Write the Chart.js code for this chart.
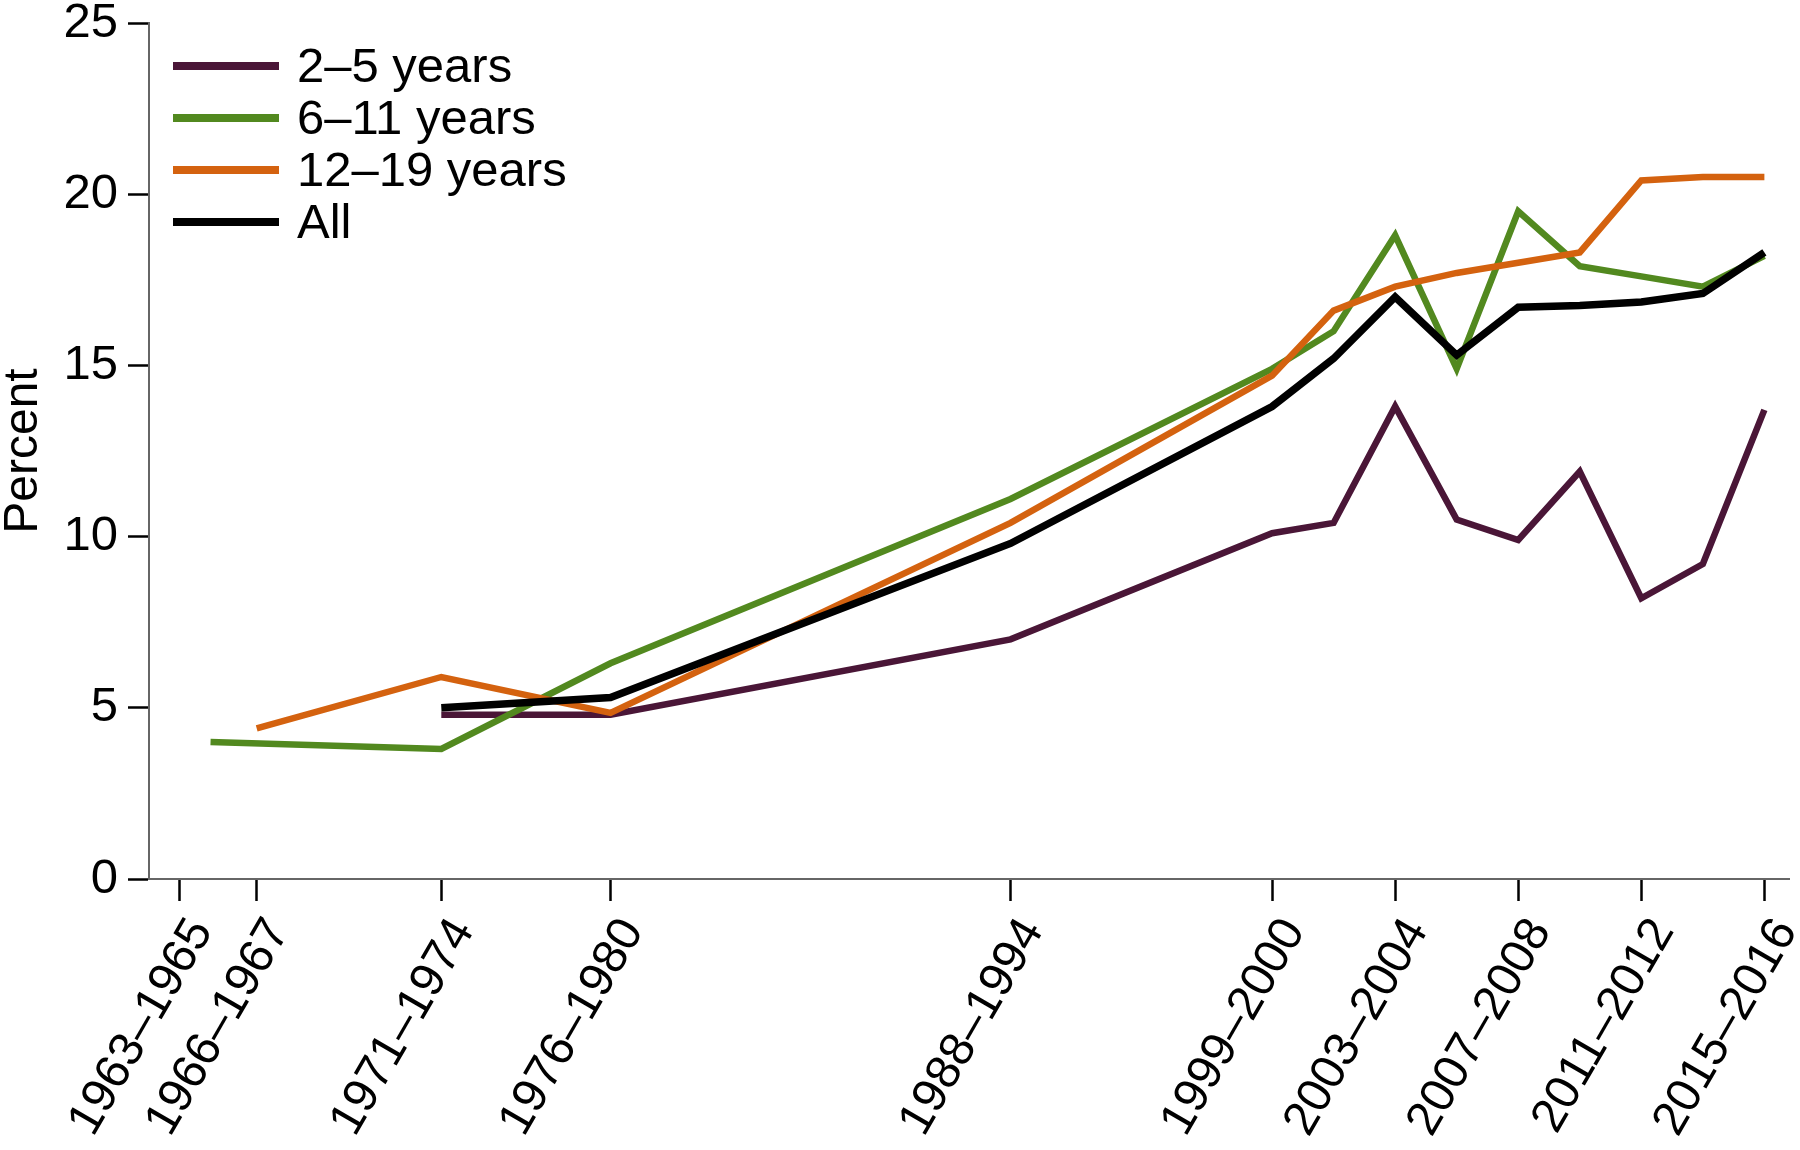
<!DOCTYPE html>
<html>
<head>
<meta charset="utf-8">
<title>Percent by age group</title>
<script src="https://cdn.jsdelivr.net/npm/chart.js@4.4.0/dist/chart.umd.min.js"></script>
<style>
    body { margin: 0; background: #fff; }
    canvas { display: block; }
</style>
</head>
<body>
<canvas id="ageChart" width="1800" height="1150"></canvas>
<script>
// x axis: survey periods, placed at the middle of each period
const tickYears = [1964, 1966.5, 1972.5, 1978, 1991, 1999.5, 2003.5, 2007.5, 2011.5, 2015.5];
const tickLabels = ['1963–1965', '1966–1967', '1971–1974', '1976–1980', '1988–1994',
    '1999–2000', '2003–2004', '2007–2008', '2011–2012', '2015–2016'];

// y axis ticks
const percentTicks = [0, 5, 10, 15, 20, 25];

// years for the series that start in 1971-1974
const surveyYears = [1972.5, 1978, 1991, 1999.5, 2001.5, 2003.5, 2005.5, 2007.5, 2009.5, 2011.5, 2013.5, 2015.5];
// 6-11 years starts earlier
const years6to11 = [1965, 1972.5, 1978, 1991, 1999.5, 2001.5, 2003.5, 2005.5, 2007.5, 2009.5, 2011.5, 2013.5, 2015.5];
// 12-19 years starts in 1966-1967
const years12to19 = [1966.5, 1972.5, 1978, 1991, 1999.5, 2001.5, 2003.5, 2005.5, 2007.5, 2009.5, 2011.5, 2013.5, 2015.5];

const values2to5 = [4.8, 4.8, 7.0, 10.1, 10.4, 13.8, 10.5, 9.9, 11.9, 8.2, 9.2, 13.7];
const values6to11 = [4.0, 3.8, 6.3, 11.1, 14.9, 16.0, 18.8, 14.9, 19.5, 17.9, 17.6, 17.3, 18.2];
const values12to19 = [4.4, 5.9, 4.85, 10.4, 14.7, 16.6, 17.3, 17.7, 18.0, 18.3, 20.4, 20.5, 20.5];
const valuesAll = [5.0, 5.3, 9.8, 13.8, 15.2, 17.0, 15.3, 16.7, 16.75, 16.85, 17.1, 18.3];

const seriesLabels = ['2–5 years', '6–11 years', '12–19 years', 'All'];

const COLORS = {
    purple: '#4a1637',
    green: '#52891f',
    orange: '#d4620f',
    black: '#000000',
};

const FONT = 'Liberation Sans, Arial, Helvetica, sans-serif';

// turn two arrays into {x, y} points
function toPoints(xs, ys) {
    return xs.map((x, i) => ({x: x, y: ys[i]}));
}

// legend drawn inside the plot, top left
const insideLegend = {
    id: 'insideLegend',
    afterDraw(chart) {
        const ctx = chart.ctx;
        const lineX = chart.chartArea.left + 24;
        const lineLen = 106;
        const firstY = 66;
        const rowGap = 52;
        ctx.save();
        ctx.font = '49px ' + FONT;
        ctx.textBaseline = 'middle';
        ctx.textAlign = 'left';
        chart.data.datasets.forEach((ds, i) => {
            const y = firstY + i * rowGap;
            ctx.strokeStyle = ds.borderColor;
            ctx.lineWidth = 8;
            ctx.beginPath();
            ctx.moveTo(lineX, y);
            ctx.lineTo(lineX + lineLen, y);
            ctx.stroke();
            ctx.fillStyle = '#000';
            ctx.fillText(ds.label, lineX + lineLen + 18, y + 2);
        });
        ctx.restore();
    }
};

function makeDataset(label, xs, ys, color, width, order) {
    return {
        label: label,
        data: toPoints(xs, ys),
        borderColor: color,
        backgroundColor: color,
        borderWidth: width,
        pointRadius: 0,
        tension: 0,
        borderJoinStyle: 'miter',
        fill: false,
        order: order,
    };
}

const chart = new Chart(document.getElementById('ageChart'), {
    type: 'line',
    data: {
        datasets: [
            makeDataset(seriesLabels[0], surveyYears, values2to5, COLORS.purple, 6.5, 3),
            makeDataset(seriesLabels[1], years6to11, values6to11, COLORS.green, 6.5, 2),
            makeDataset(seriesLabels[2], years12to19, values12to19, COLORS.orange, 6.5, 1),
            makeDataset(seriesLabels[3], surveyYears, valuesAll, COLORS.black, 7.5, 0),
        ],
    },
    options: {
        responsive: false,
        animation: false,
        layout: {
            padding: {top: 23, right: 11, bottom: 0, left: 0},
        },
        plugins: {
            legend: {display: false},
            tooltip: {enabled: false},
        },
        scales: {
            x: {
                type: 'linear',
                min: 1963,
                max: 2016.3,
                afterBuildTicks(scale) {
                    scale.ticks = tickYears.map(v => ({value: v}));
                },
                afterFit(scale) {
                    scale.height = 271;
                    scale.paddingLeft = 0;
                    scale.paddingRight = 0;
                },
                ticks: {
                    autoSkip: false,
                    minRotation: 60,
                    maxRotation: 60,
                    padding: 8,
                    labelOffset: 22,
                    color: '#000',
                    font: {family: FONT, size: 48},
                    callback: (value) => tickLabels[tickYears.indexOf(value)],
                },
                grid: {
                    drawOnChartArea: false,
                    drawTicks: true,
                    tickLength: 22,
                    tickColor: '#000',
                    tickWidth: 2.5,
                },
                border: {display: true, color: '#666', width: 2},
            },
            y: {
                min: 0,
                max: 25,
                afterBuildTicks(scale) {
                    scale.ticks = percentTicks.map(v => ({value: v}));
                },
                afterFit(scale) {
                    scale.width = 149;
                    scale.paddingTop = 0;
                    scale.paddingBottom = 0;
                },
                ticks: {
                    padding: 10,
                    color: '#000',
                    font: {family: FONT, size: 49},
                },
                grid: {
                    drawOnChartArea: false,
                    drawTicks: true,
                    tickLength: 21,
                    tickColor: '#000',
                    tickWidth: 2.5,
                },
                border: {display: true, color: '#666', width: 2},
                title: {
                    display: true,
                    text: 'Percent',
                    color: '#000',
                    padding: 0,
                    font: {family: FONT, size: 48, lineHeight: 1},
                },
            },
        },
    },
    plugins: [insideLegend],
});
</script>
</body>
</html>
